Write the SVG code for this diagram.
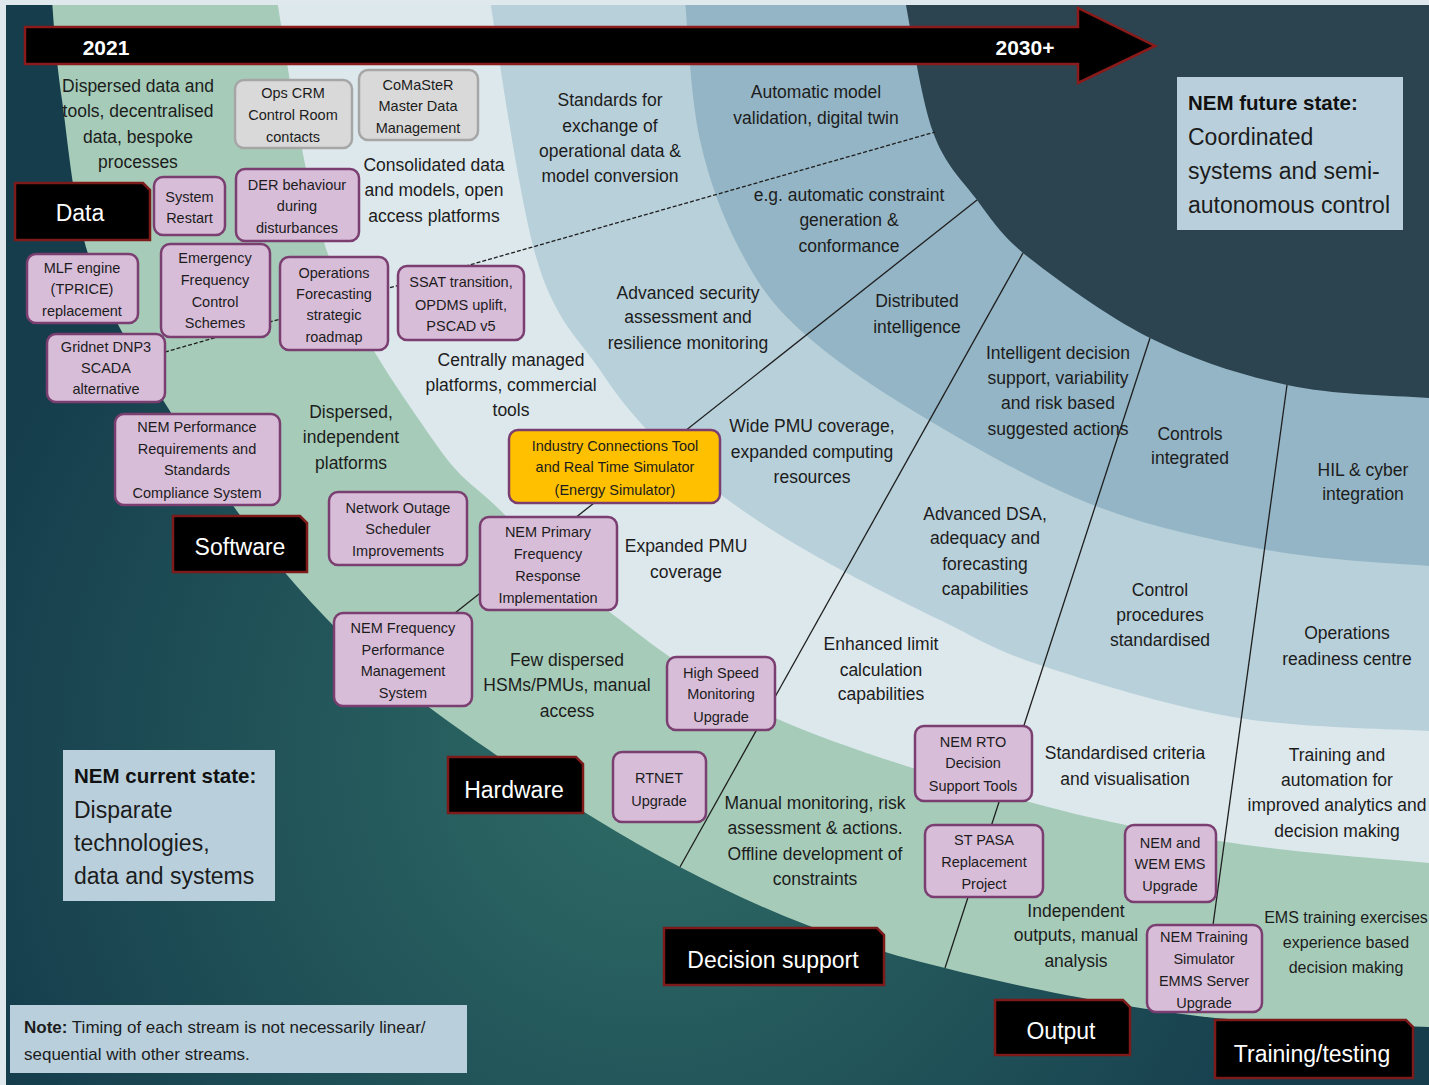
<svg xmlns="http://www.w3.org/2000/svg" width="1429" height="1085" viewBox="0 0 1429 1085">
<defs>
<radialGradient id="bgGrad" cx="650" cy="760" r="720" gradientUnits="userSpaceOnUse">
<stop offset="0" stop-color="#2f6c67"/>
<stop offset="1" stop-color="#153d4c"/>
</radialGradient>
<clipPath id="clip"><rect x="6" y="5" width="1423" height="1080"/></clipPath>
<style>
.t{font-family:"Liberation Sans",Arial,sans-serif;font-size:17.5px;fill:#1c1c1c;text-anchor:middle}
.b{font-family:"Liberation Sans",Arial,sans-serif;font-size:14.5px;fill:#1c1c1c;text-anchor:middle}
.pk{fill:#d8bdd9;stroke:#7a3e70;stroke-width:2.5}
.gy{fill:#d9d9d9;stroke:#a6a6a6;stroke-width:2.5}
.yl{fill:#ffc000;stroke:#7a3e70;stroke-width:2.5}
.lab{fill:#000;stroke:#7d1b1b;stroke-width:2.5}
.lt{font-family:"Liberation Sans",Arial,sans-serif;font-size:23px;fill:#fff;text-anchor:middle}
.st{font-family:"Liberation Sans",Arial,sans-serif;font-size:23px;fill:#1c1c1c}
.sb{font-family:"Liberation Sans",Arial,sans-serif;font-size:20.5px;font-weight:bold;fill:#111}
.ln{stroke:#1e1e1e;stroke-width:1.3;fill:none}
.yr{font-family:"Liberation Sans",Arial,sans-serif;font-size:21px;font-weight:bold;fill:#fff;text-anchor:middle}
</style>
</defs>
<rect x="0" y="0" width="1429" height="1085" fill="#dfe8ec"/>
<g id="bands" clip-path="url(#clip)">
<rect x="0" y="0" width="1429" height="1085" fill="url(#bgGrad)"/>
<path fill="#a6ccb9" d="M52,0 C54,26.7 55.7,56.7 62,100 C68.3,143.3 73.2,210 90,260 C106.8,310 130.2,347.5 163,400 C195.8,452.5 242.5,523.7 287,575 C331.5,626.3 364.5,659.3 430,708 C495.5,756.7 595,822.5 680,867 C765,911.5 850.8,946 945,968 C1030,990 1133.5,1009 1215,1018 C1290,1024 1381.5,1025.7 1429,1027 L1429,0 Z"/>
<path fill="#dce8ec" d="M277,0 C286,53.3 304,186.7 330,260 C356,333.3 404.7,398.3 433,440 C461.3,481.7 471,481.7 500,510 C529,538.3 561.5,575.5 607,610 C652.5,644.5 702,684.8 773,717 C844,749.2 956.3,782 1033,803 C1109.7,824 1167,833 1233,843 C1299,853 1379.5,858.5 1429,863 L1429,0 Z"/>
<path fill="#b8d0da" d="M490,0 C498.7,53.3 518.7,198.3 537,260 C555.3,321.7 580,340 600,370 C620,400 634.5,417.5 657,440 C679.5,462.5 707.3,485 735,505 C762.7,525 788.8,540.8 823,560 C857.2,579.2 903.8,602.5 940,620 C976.2,637.5 991.2,648.8 1040,665 C1088.8,681.2 1168.2,706 1233,717 C1297.8,728 1379.5,728.3 1429,731 L1429,0 Z"/>
<path fill="#94b5c5" d="M685,0 C688,33.3 690.8,98.3 700,140 C709.2,181.7 723.3,218.3 740,250 C756.7,281.7 770,302.5 800,330 C830,357.5 871.2,385.8 920,415 C968.8,444.2 1035.2,482.5 1093,505 C1150.8,527.5 1211,539.8 1267,550 C1323,560.2 1385.2,562.7 1429,566 L1429,0 Z"/>
<path fill="#2c4350" d="M905,0 C911.3,32 921,98.7 933,132 C945,165.3 962,179.8 977,200 C992,220.2 1000,233 1023,253 C1051.8,276 1106,316 1150,338 C1194,360 1240.5,375 1287,385 C1333.5,395 1388.5,395.2 1429,398 L1429,0 Z"/>
</g>
<g id="band-texts">
<text class="t" x="138" y="92">Dispersed data and</text>
<text class="t" x="138" y="117">tools, decentralised</text>
<text class="t" x="138" y="143">data, bespoke</text>
<text class="t" x="138" y="168">processes</text>
<text class="t" x="351" y="418">Dispersed,</text>
<text class="t" x="351" y="443">independent</text>
<text class="t" x="351" y="469">platforms</text>
<text class="t" x="567" y="666">Few dispersed</text>
<text class="t" x="567" y="691">HSMs/PMUs, manual</text>
<text class="t" x="567" y="717">access</text>
<text class="t" x="815" y="809">Manual monitoring, risk</text>
<text class="t" x="815" y="834">assessment &amp; actions.</text>
<text class="t" x="815" y="860">Offline development of</text>
<text class="t" x="815" y="885">constraints</text>
<text class="t" x="1076" y="917">Independent</text>
<text class="t" x="1076" y="941">outputs, manual</text>
<text class="t" x="1076" y="967">analysis</text>
<text class="t" x="1346" y="923" style="font-size:16px">EMS training exercises</text>
<text class="t" x="1346" y="948" style="font-size:16px">experience based</text>
<text class="t" x="1346" y="973" style="font-size:16px">decision making</text>
<text class="t" x="434" y="171">Consolidated data</text>
<text class="t" x="434" y="196">and models, open</text>
<text class="t" x="434" y="222">access platforms</text>
<text class="t" x="511" y="366">Centrally managed</text>
<text class="t" x="511" y="391">platforms, commercial</text>
<text class="t" x="511" y="416">tools</text>
<text class="t" x="686" y="552">Expanded PMU</text>
<text class="t" x="686" y="578">coverage</text>
<text class="t" x="881" y="650">Enhanced limit</text>
<text class="t" x="881" y="676">calculation</text>
<text class="t" x="881" y="700">capabilities</text>
<text class="t" x="1125" y="759">Standardised criteria</text>
<text class="t" x="1125" y="785">and visualisation</text>
<text class="t" x="1337" y="761">Training and</text>
<text class="t" x="1337" y="786">automation for</text>
<text class="t" x="1337" y="811">improved analytics and</text>
<text class="t" x="1337" y="837">decision making</text>
<text class="t" x="610" y="106">Standards for</text>
<text class="t" x="610" y="132">exchange of</text>
<text class="t" x="610" y="157">operational data &amp;</text>
<text class="t" x="610" y="182">model conversion</text>
<text class="t" x="688" y="299">Advanced security</text>
<text class="t" x="688" y="323">assessment and</text>
<text class="t" x="688" y="349">resilience monitoring</text>
<text class="t" x="812" y="432">Wide PMU coverage,</text>
<text class="t" x="812" y="458">expanded computing</text>
<text class="t" x="812" y="483">resources</text>
<text class="t" x="985" y="520">Advanced DSA,</text>
<text class="t" x="985" y="544">adequacy and</text>
<text class="t" x="985" y="570">forecasting</text>
<text class="t" x="985" y="595">capabilities</text>
<text class="t" x="1160" y="596">Control</text>
<text class="t" x="1160" y="621">procedures</text>
<text class="t" x="1160" y="646">standardised</text>
<text class="t" x="1347" y="639">Operations</text>
<text class="t" x="1347" y="665">readiness centre</text>
<text class="t" x="816" y="98">Automatic model</text>
<text class="t" x="816" y="124">validation, digital twin</text>
<text class="t" x="849" y="201">e.g. automatic constraint</text>
<text class="t" x="849" y="226">generation &amp;</text>
<text class="t" x="849" y="252">conformance</text>
<text class="t" x="917" y="307">Distributed</text>
<text class="t" x="917" y="333">intelligence</text>
<text class="t" x="1058" y="359">Intelligent decision</text>
<text class="t" x="1058" y="384">support, variability</text>
<text class="t" x="1058" y="409">and risk based</text>
<text class="t" x="1058" y="435">suggested actions</text>
<text class="t" x="1190" y="440">Controls</text>
<text class="t" x="1190" y="464">integrated</text>
<text class="t" x="1363" y="476">HIL &amp; cyber</text>
<text class="t" x="1363" y="500">integration</text>
</g>
<g id="connectors">
<line class="ln" x1="165" y1="352" x2="935" y2="132" stroke-dasharray="4 2" stroke-width="1.6"/>
<line class="ln" x1="977" y1="200" x2="455" y2="613"/>
<line class="ln" x1="1023" y1="253" x2="680" y2="867"/>
<line class="ln" x1="1150" y1="338" x2="945" y2="968"/>
<line class="ln" x1="1287" y1="385" x2="1213" y2="925"/>
</g>
<g id="timeline">
<path d="M25,27 H1078 V8 L1155,46 L1078,83 V64 H25 Z" fill="#000" stroke="#8b1a1a" stroke-width="2.5"/>
<text class="yr" x="106" y="55">2021</text>
<text class="yr" x="1025" y="55">2030+</text>
</g>
<g id="future-state">
<rect x="1177" y="77" width="226" height="153" fill="#b9d0dc"/>
<text class="sb" x="1188" y="110">NEM future state:</text>
<text class="st" x="1188" y="145">Coordinated</text>
<text class="st" x="1188" y="179">systems and semi-</text>
<text class="st" x="1188" y="213">autonomous control</text>
</g>
<g id="current-state">
<rect x="63" y="750" width="212" height="151" fill="#b9d0dc"/>
<text class="sb" x="74" y="783">NEM current state:</text>
<text class="st" x="74" y="818">Disparate</text>
<text class="st" x="74" y="851">technologies,</text>
<text class="st" x="74" y="884">data and systems</text>
</g>
<g id="note">
<rect x="10" y="1005" width="457" height="68" fill="#b9d0dc"/>
<text x="24" y="1033" style="font-family:'Liberation Sans',Arial,sans-serif;font-size:17px;fill:#1c1c1c"><tspan font-weight="bold">Note:</tspan>  Timing of each stream is not necessarily linear/</text>
<text x="24" y="1060" style="font-family:'Liberation Sans',Arial,sans-serif;font-size:17px;fill:#1c1c1c">sequential with other streams.</text>
</g>
<g id="label-data"><path class="lab" d="M15,183 H143 L150,190 V240 H15 Z"/><text class="lt" x="80" y="221">Data</text></g>
<g id="label-software"><path class="lab" d="M173,516 H300 L307,523 V572 H173 Z"/><text class="lt" x="240" y="555">Software</text></g>
<g id="label-hardware"><path class="lab" d="M448,757 H576 L583,764 V813 H448 Z"/><text class="lt" x="514" y="798">Hardware</text></g>
<g id="label-decision"><path class="lab" d="M664,928 H877 L884,935 V985 H664 Z"/><text class="lt" x="773" y="968">Decision support</text></g>
<g id="label-output"><path class="lab" d="M995,1000 H1123 L1130,1007 V1055 H995 Z"/><text class="lt" x="1061" y="1039">Output</text></g>
<g id="label-training"><path class="lab" d="M1215,1020 H1406 L1413,1027 V1078 H1215 Z"/><text class="lt" x="1312" y="1062">Training/testing</text></g>
<g id="n-opscrm"><rect class="gy" x="235" y="80" width="117" height="68" rx="9"/><text class="b" x="293" y="98">Ops CRM</text><text class="b" x="293" y="120">Control Room</text><text class="b" x="293" y="142">contacts</text></g>
<g id="n-comaster"><rect class="gy" x="359" y="70" width="119" height="70" rx="9"/><text class="b" x="418" y="90">CoMaSteR</text><text class="b" x="418" y="111">Master Data</text><text class="b" x="418" y="133">Management</text></g>
<g id="n-restart"><rect class="pk" x="154" y="177" width="71" height="58" rx="9"/><text class="b" x="189.5" y="202">System</text><text class="b" x="189.5" y="223">Restart</text></g>
<g id="n-der"><rect class="pk" x="236" y="169" width="123" height="72" rx="9"/><text class="b" x="297" y="190">DER behaviour</text><text class="b" x="297" y="211">during</text><text class="b" x="297" y="233">disturbances</text></g>
<g id="n-mlf"><rect class="pk" x="27" y="254" width="111" height="69" rx="9"/><text class="b" x="82" y="273">MLF engine</text><text class="b" x="82" y="294">(TPRICE)</text><text class="b" x="82" y="316">replacement</text></g>
<g id="n-efcs"><rect class="pk" x="161" y="244" width="109" height="93" rx="9"/><text class="b" x="215" y="263">Emergency</text><text class="b" x="215" y="285">Frequency</text><text class="b" x="215" y="307">Control</text><text class="b" x="215" y="328">Schemes</text></g>
<g id="n-opsfc"><rect class="pk" x="280" y="257" width="108" height="93" rx="9"/><text class="b" x="334" y="278">Operations</text><text class="b" x="334" y="299">Forecasting</text><text class="b" x="334" y="320">strategic</text><text class="b" x="334" y="342">roadmap</text></g>
<g id="n-ssat"><rect class="pk" x="398" y="266" width="126" height="74" rx="9"/><text class="b" x="461" y="287">SSAT transition,</text><text class="b" x="461" y="310">OPDMS uplift,</text><text class="b" x="461" y="331">PSCAD v5</text></g>
<g id="n-gridnet"><rect class="pk" x="47" y="334" width="118" height="68" rx="9"/><text class="b" x="106" y="352">Gridnet DNP3</text><text class="b" x="106" y="373">SCADA</text><text class="b" x="106" y="394">alternative</text></g>
<g id="n-nemperf"><rect class="pk" x="115" y="414" width="165" height="91" rx="9"/><text class="b" x="197" y="432">NEM Performance</text><text class="b" x="197" y="454">Requirements and</text><text class="b" x="197" y="475">Standards</text><text class="b" x="197" y="498">Compliance System</text></g>
<g id="n-industry"><rect class="yl" x="509" y="430" width="211" height="73" rx="9"/><text class="b" x="615" y="451">Industry Connections Tool</text><text class="b" x="615" y="472">and Real Time Simulator</text><text class="b" x="615" y="495">(Energy Simulator)</text></g>
<g id="n-nos"><rect class="pk" x="329" y="492" width="138" height="73" rx="9"/><text class="b" x="398" y="513">Network Outage</text><text class="b" x="398" y="534">Scheduler</text><text class="b" x="398" y="556">Improvements</text></g>
<g id="n-pfr"><rect class="pk" x="480" y="517" width="137" height="93" rx="9"/><text class="b" x="548" y="537">NEM Primary</text><text class="b" x="548" y="559">Frequency</text><text class="b" x="548" y="581">Response</text><text class="b" x="548" y="603">Implementation</text></g>
<g id="n-fpms"><rect class="pk" x="334" y="613" width="138" height="93" rx="9"/><text class="b" x="403" y="633">NEM Frequency</text><text class="b" x="403" y="655">Performance</text><text class="b" x="403" y="676">Management</text><text class="b" x="403" y="698">System</text></g>
<g id="n-hsm"><rect class="pk" x="667" y="657" width="108" height="73" rx="9"/><text class="b" x="721" y="678">High Speed</text><text class="b" x="721" y="699">Monitoring</text><text class="b" x="721" y="722">Upgrade</text></g>
<g id="n-rtnet"><rect class="pk" x="613" y="752" width="93" height="70" rx="9"/><text class="b" x="659" y="783">RTNET</text><text class="b" x="659" y="806">Upgrade</text></g>
<g id="n-rto"><rect class="pk" x="915" y="726" width="117" height="75" rx="9"/><text class="b" x="973" y="747">NEM RTO</text><text class="b" x="973" y="768">Decision</text><text class="b" x="973" y="791">Support Tools</text></g>
<g id="n-stpasa"><rect class="pk" x="925" y="825" width="118" height="72" rx="9"/><text class="b" x="984" y="845">ST PASA</text><text class="b" x="984" y="867">Replacement</text><text class="b" x="984" y="889">Project</text></g>
<g id="n-ems"><rect class="pk" x="1125" y="825" width="91" height="77" rx="9"/><text class="b" x="1170" y="848">NEM and</text><text class="b" x="1170" y="869">WEM EMS</text><text class="b" x="1170" y="891">Upgrade</text></g>
<g id="n-trainsim"><rect class="pk" x="1147" y="925" width="115" height="87" rx="9"/><text class="b" x="1204" y="942">NEM Training</text><text class="b" x="1204" y="964">Simulator</text><text class="b" x="1204" y="986">EMMS Server</text><text class="b" x="1204" y="1008">Upgrade</text></g>
</svg>
